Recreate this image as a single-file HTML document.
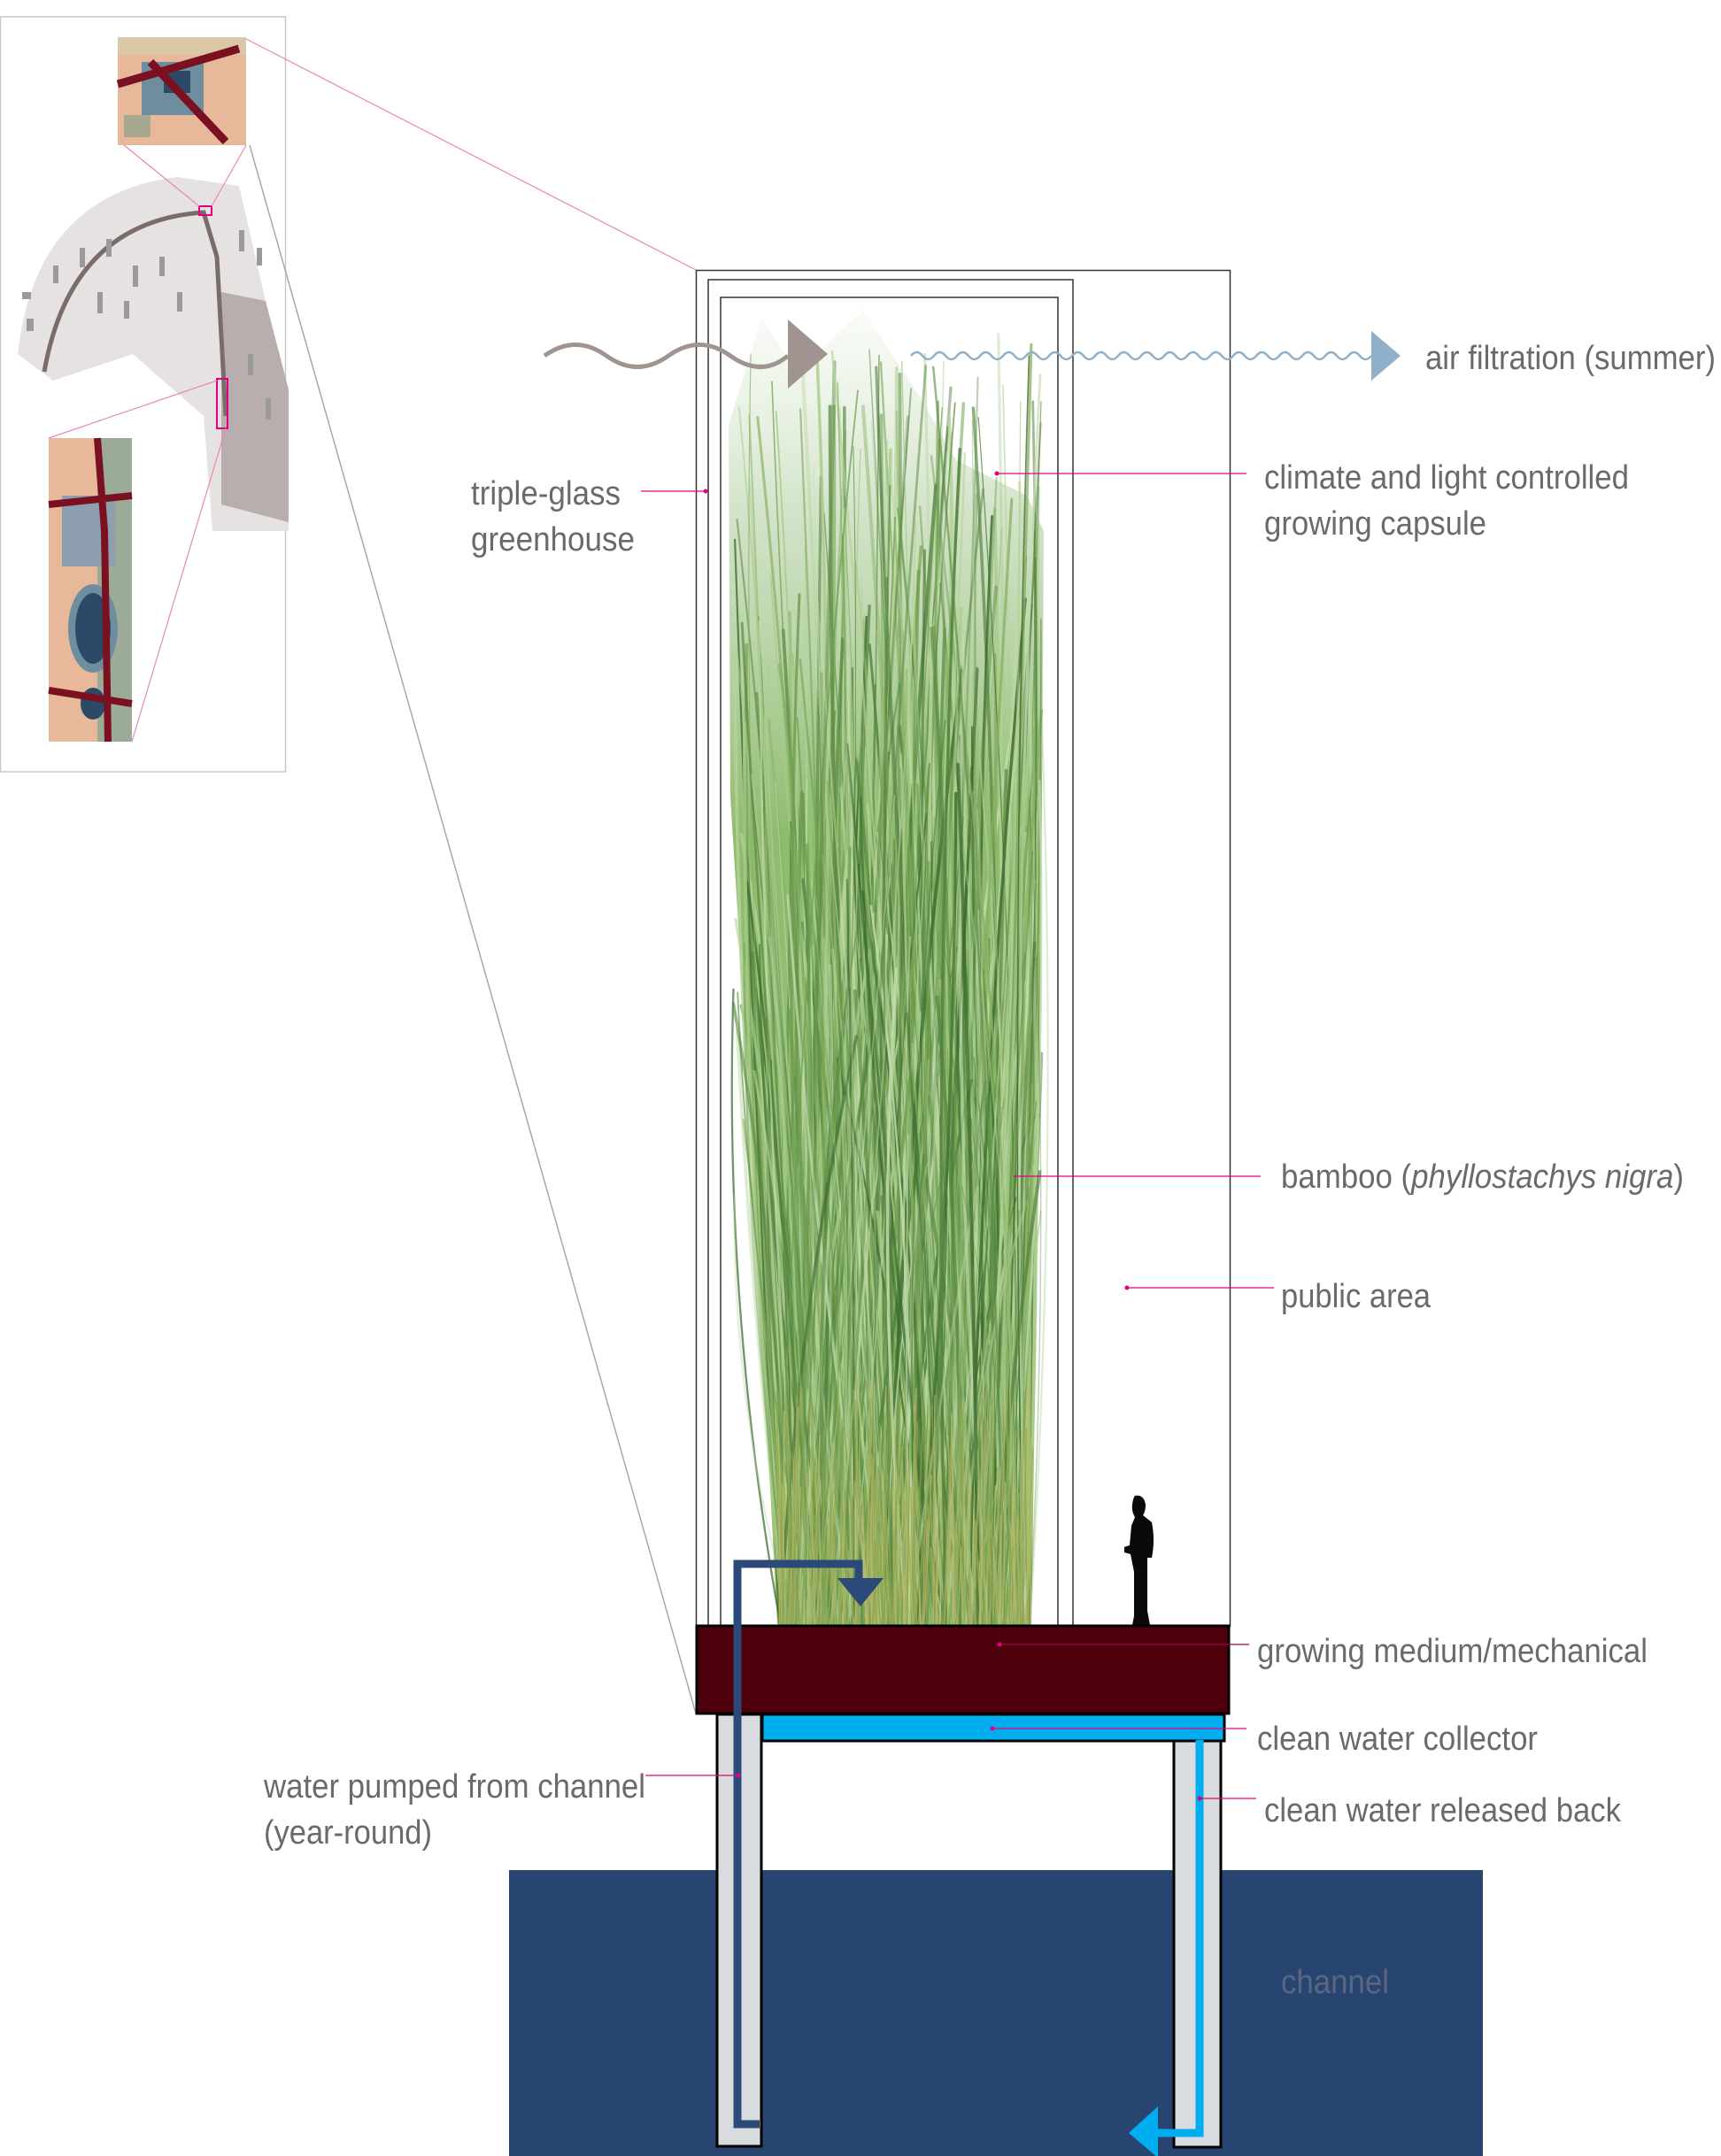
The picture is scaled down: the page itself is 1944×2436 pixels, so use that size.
<!DOCTYPE html>
<html><head><meta charset="utf-8"><style>
html,body{margin:0;padding:0;background:#fff}
body{width:1944px;height:2436px;position:relative;overflow:hidden}
svg{position:absolute;left:0;top:0}
.t{font-family:"Liberation Sans",sans-serif;font-size:38px;fill:#6a6a6a}
</style></head><body>
<svg width="1944" height="2436" viewBox="0 0 1944 2436" xmlns="http://www.w3.org/2000/svg">
<defs>
<linearGradient id="bam" x1="0" y1="0" x2="0" y2="1">
<stop offset="0" stop-color="#c8dcb8" stop-opacity="0.1"/>
<stop offset="0.15" stop-color="#a9c996" stop-opacity="0.5"/>
<stop offset="0.4" stop-color="#8fbb6e"/>
<stop offset="0.75" stop-color="#9cc57a"/>
<stop offset="0.9" stop-color="#a9c46a"/>
<stop offset="1" stop-color="#93ab52"/>
</linearGradient>
</defs>
<rect x="0.5" y="19" width="322" height="853" fill="none" stroke="#c8c8c8" stroke-width="1.5"/>
<rect x="133" y="42" width="145" height="122" fill="#e8b89a"/>
<rect x="133" y="42" width="145" height="20" fill="#d9c7a5"/>
<rect x="160" y="70" width="70" height="60" fill="#6e8ea0"/>
<rect x="185" y="80" width="30" height="25" fill="#2c4a68"/>
<rect x="140" y="130" width="30" height="25" fill="#a8a890"/>
<path d="M133 95 L270 55 M170 70 L255 160" stroke="#7a1020" stroke-width="9"/>
<path d="M20 400 Q40 220 200 200 L270 210 L300 340 L326 440 L326 600 L240 600 L230 470 L150 400 L60 430 Z" fill="#e6e2e2"/>
<path d="M250 330 L300 340 L326 440 L326 590 L250 570 Z" fill="#b8aeae"/>
<path d="M50 420 Q80 250 230 240 L245 290 L255 470" fill="none" stroke="#7a6c6c" stroke-width="5"/>
<g fill="#9a9a9a">
<rect x="60" y="300" width="6" height="20"/><rect x="90" y="280" width="6" height="22"/><rect x="120" y="270" width="6" height="20"/><rect x="150" y="300" width="6" height="24"/><rect x="180" y="290" width="6" height="22"/><rect x="110" y="330" width="6" height="24"/><rect x="140" y="340" width="6" height="20"/><rect x="200" y="330" width="6" height="22"/><rect x="30" y="360" width="8" height="14"/><rect x="25" y="330" width="10" height="8"/><rect x="270" y="260" width="6" height="24"/><rect x="290" y="280" width="6" height="20"/><rect x="280" y="400" width="6" height="24"/><rect x="300" y="450" width="6" height="24"/>
</g>
<rect x="225" y="233" width="14" height="10" fill="none" stroke="#e6007e" stroke-width="2"/>
<rect x="245" y="428" width="12" height="56" fill="none" stroke="#e6007e" stroke-width="2"/>
<rect x="55" y="495" width="94" height="343" fill="#e8b89a"/>
<rect x="110" y="495" width="39" height="343" fill="#9cab98"/>
<rect x="70" y="560" width="60" height="80" fill="#8ea0b0"/>
<ellipse cx="105" cy="710" rx="28" ry="50" fill="#6e8ea0"/>
<ellipse cx="105" cy="710" rx="20" ry="40" fill="#2c4a68"/>
<ellipse cx="105" cy="795" rx="14" ry="18" fill="#2c4a68"/>
<path d="M110 495 L118 600 L122 838 M55 780 L149 795 M55 570 L149 560" stroke="#7a1020" stroke-width="8" fill="none"/>
<g stroke="#e889b4" stroke-width="1.2" fill="none">
<line x1="278" y1="44" x2="786" y2="305"/>
<line x1="140" y1="164" x2="225" y2="233"/>
<line x1="278" y1="164" x2="239" y2="233"/>
<line x1="55" y1="495" x2="245" y2="430"/>
<line x1="149" y1="838" x2="255" y2="484"/>
</g>
<line x1="282" y1="164" x2="786" y2="1936" stroke="#a8a8a8" stroke-width="1.5"/>
<rect x="786.5" y="305.5" width="603" height="1532" fill="none" stroke="#333" stroke-width="1.5"/>
<path d="M800 1838 V316 H1212 V1838" fill="none" stroke="#333" stroke-width="1.5"/>
<rect x="814" y="336" width="381" height="1502" fill="none" stroke="#333" stroke-width="1.5"/>
<path d="M823 480 L860 360 L900 420 L975 350 L1040 450 L1080 520 L1160 560 L1179 600 L1175 1200 L1165 1835 L878 1835 L850 1300 L825 900 Z" fill="url(#bam)"/>
<g id="strands" fill="none" stroke-linecap="round"></g>
<path d="M1282 1690 q10 -2 12 10 q0 8 -3 12 l10 8 q4 20 0 40 l-5 0 l0 60 l3 16 l-20 0 l2 -10 l0 -50 l-4 -20 l-7 -2 l0 -6 l6 -2 l2 -22 l4 -10 q-4 -6 -3 -14 q1 -8 3 -10z" fill="#0a0a0a"/>
<rect x="787" y="1837" width="601" height="99" fill="#4e000b" stroke="#000" stroke-width="3"/>
<rect x="575" y="2113" width="1100" height="323" fill="#284571"/>
<text class="t" x="1447" y="2252" textLength="122" lengthAdjust="spacingAndGlyphs" style="fill:#5a6680">channel</text>
<rect x="810" y="1937" width="50" height="488" fill="#d9dcde" stroke="#000" stroke-width="3"/>
<rect x="1326" y="1966" width="53" height="460" fill="#d9dcde" stroke="#000" stroke-width="3"/>
<rect x="861" y="1937" width="522" height="30" fill="#00aeef" stroke="#000" stroke-width="3"/>
<path d="M858 2400 H833 V1767 H970 V1785" fill="none" stroke="#2b4a7a" stroke-width="9"/>
<polygon points="946,1783 998,1783 972,1815" fill="#2b4a7a"/>
<path d="M1355 1966 V2410 H1305" fill="none" stroke="#00aeef" stroke-width="9"/>
<polygon points="1308,2380 1308,2438 1275,2410" fill="#00aeef"/>
<path d="M615 402 q35 -25 70 0 t70 0 t70 0 t65 0" fill="none" stroke="#a09490" stroke-width="5"/>
<polygon points="890,361 890,439 935,400" fill="#a09490"/>
<path id="bw" fill="none" stroke="#8fb0c8" stroke-width="2.5" d=""/>
<polygon points="1549,374 1549,430 1582,402" fill="#8fb0c8"/>
<g stroke="#e6007e" stroke-width="1.3">
<line x1="724" y1="555" x2="797" y2="555"/>
<line x1="1126" y1="535" x2="1408" y2="535"/>
<line x1="1145" y1="1329" x2="1424" y2="1329"/>
<line x1="1273" y1="1455" x2="1439" y2="1455"/>
<line x1="1129" y1="1858" x2="1411" y2="1858" stroke="#a0004a"/>
<line x1="1121" y1="1953" x2="1408" y2="1953"/>
<line x1="1355" y1="2032" x2="1419" y2="2032"/>
<line x1="729" y1="2006" x2="834" y2="2006"/>
</g>
<g fill="#e6007e"><circle cx="797" cy="555" r="2.5"/><circle cx="1126" cy="535" r="2.5"/><circle cx="1273" cy="1455" r="2.5"/><circle cx="1129" cy="1858" r="2.5"/><circle cx="1121" cy="1953" r="2.5"/><circle cx="1355" cy="2032" r="2.5"/><circle cx="834" cy="2006" r="2.5"/></g>
<text class="t" x="1610" y="417" textLength="328" lengthAdjust="spacingAndGlyphs">air filtration (summer)</text>
<text class="t" x="532" y="570" textLength="169" lengthAdjust="spacingAndGlyphs">triple-glass</text>
<text class="t" x="532" y="622" textLength="185" lengthAdjust="spacingAndGlyphs">greenhouse</text>
<text class="t" x="1428" y="552" textLength="412" lengthAdjust="spacingAndGlyphs">climate and light controlled</text>
<text class="t" x="1428" y="604" textLength="251" lengthAdjust="spacingAndGlyphs">growing capsule</text>
<text class="t" x="1447" y="1342" textLength="455" lengthAdjust="spacingAndGlyphs">bamboo (<tspan font-style="italic">phyllostachys nigra</tspan>)</text>
<text class="t" x="1447" y="1477" textLength="169" lengthAdjust="spacingAndGlyphs">public area</text>
<text class="t" x="1420" y="1878" textLength="441" lengthAdjust="spacingAndGlyphs">growing medium/mechanical</text>
<text class="t" x="1420" y="1977" textLength="317" lengthAdjust="spacingAndGlyphs">clean water collector</text>
<text class="t" x="1428" y="2058" textLength="403" lengthAdjust="spacingAndGlyphs">clean water released back</text>
<text class="t" x="298" y="2031" textLength="431" lengthAdjust="spacingAndGlyphs">water pumped from channel</text>
<text class="t" x="298" y="2083" textLength="190" lengthAdjust="spacingAndGlyphs">(year-round)</text>
</svg>
<script>
(function(){
var ns="http://www.w3.org/2000/svg";
var d="M1029 402";for(var x=1029;x<1549;x+=26){d+=" q6.5 -8 13 0 t13 0";}
document.getElementById("bw").setAttribute("d",d);
var g=document.getElementById("strands");var s=12345;
function r(){s=(s*16807)%2147483647;return s/2147483647;}
var cols=["#4f7f3a","#6e9e50","#a8cc8a","#3d6b2f","#c2dcae","#86b062","#5c8c44","#b5d39a"];
for(var i=0;i<600;i++){
 var bx=880+r()*285, by=1835;
 var tx=bx+(r()-0.5)*200; if(tx<828)tx=828+r()*20; if(tx>1178)tx=1178-r()*20;
 var ty=370+Math.pow(r(),0.8)*1000;
 var cx=(bx+tx)/2+(r()-0.5)*80, cy=(by+ty)/2;
 var p=document.createElementNS(ns,"path");
 p.setAttribute("d","M"+bx+" "+by+" Q"+cx+" "+cy+" "+tx+" "+ty);
 p.setAttribute("stroke",cols[Math.floor(r()*cols.length)]);
 p.setAttribute("stroke-width",(1+r()*3).toFixed(1));
 p.setAttribute("opacity",(0.35+r()*0.5).toFixed(2));
 g.appendChild(p);
}
for(var j=0;j<250;j++){
 var x0=880+r()*285,y0=1835,h=80+r()*200;
 var q=document.createElementNS(ns,"path");
 q.setAttribute("d","M"+x0+" "+y0+" L"+(x0+(r()-0.5)*20)+" "+(y0-h));
 q.setAttribute("stroke",r()<0.5?"#b5b86a":"#8ea650");q.setAttribute("stroke-width","1.5");q.setAttribute("opacity","0.7");
 g.appendChild(q);
}
})();
</script>
</body></html>
